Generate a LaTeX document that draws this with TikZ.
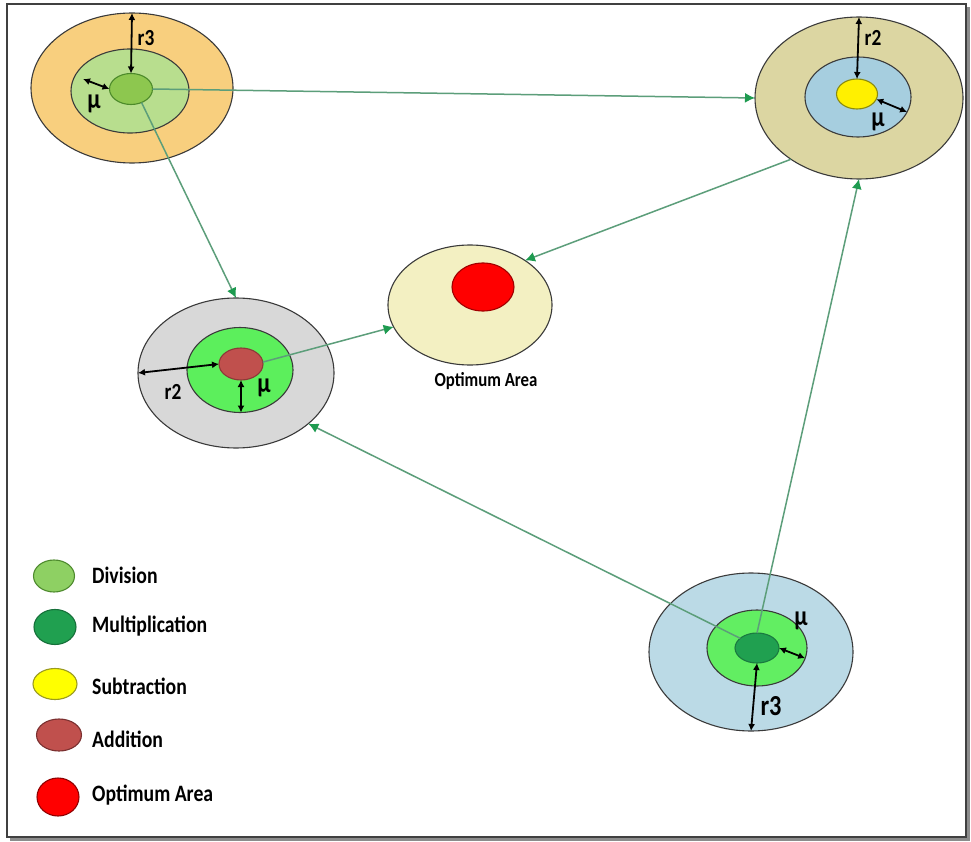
\documentclass[tikz,border=0pt]{standalone}
\usepackage{fontspec}
\newfontfamily\labfont[FakeStretch=0.84]{Carlito}
\usetikzlibrary{shapes.geometric,arrows.meta,calc}

% ring colours
\definecolor{tlouter}{HTML}{F8CF7E}
\definecolor{tlmid}{HTML}{B8DE8E}
\definecolor{tlin}{HTML}{8DC74F}
\definecolor{tlinline}{HTML}{4C8A2A}
\definecolor{trouter}{HTML}{DCD6A2}
\definecolor{trmid}{HTML}{A6CEDF}
\definecolor{trin}{HTML}{FFF000}
\definecolor{trinline}{HTML}{8A8A10}
\definecolor{mlouter}{HTML}{D8D8D8}
\definecolor{mlmid}{HTML}{5CEF5C}
\definecolor{mlin}{HTML}{C0504D}
\definecolor{mlinline}{HTML}{8B3A38}
\definecolor{brouter}{HTML}{BBDAE6}
\definecolor{brmid}{HTML}{62EE62}
\definecolor{brin}{HTML}{20A050}
\definecolor{brinline}{HTML}{1A7A40}
\definecolor{optouter}{HTML}{F3F0C2}
\definecolor{optin}{HTML}{FF0000}
\definecolor{optinline}{HTML}{A00000}
\definecolor{outline}{HTML}{3A3A3A}
\definecolor{linkgreen}{HTML}{5C9E7A}
\definecolor{tipgreen}{HTML}{1E9B50}
% legend colours
\definecolor{lgdiv}{HTML}{8ED063}
\definecolor{lgdivline}{HTML}{4E8A2E}
\definecolor{lgmul}{HTML}{20A050}
\definecolor{lgmulline}{HTML}{16703A}
\definecolor{lgsub}{HTML}{FFFF00}
\definecolor{lgsubline}{HTML}{9A9A20}
\definecolor{lgadd}{HTML}{C0504D}
\definecolor{lgaddline}{HTML}{7A3030}
\definecolor{lgopt}{HTML}{FF0000}
\definecolor{lgoptline}{HTML}{900000}

\tikzset{
  disc/.style={ellipse, inner sep=0pt, outer sep=0pt, line width=1.1pt},
  link/.style={draw=linkgreen, line width=1.5pt,
    -{Latex[length=10pt,width=10pt,color=tipgreen]}},
  dim/.style={line width=1.8pt,
    {Latex[length=7pt,width=7pt]}-{Latex[length=7pt,width=7pt]}},
  legtext/.style={font=\labfont\bfseries\fontsize{23.5}{25}\selectfont,
    anchor=west, inner sep=0pt},
  marktext/.style={font=\labfont\bfseries\fontsize{23}{25}\selectfont,
    inner sep=0pt},
  mutext/.style={font=\labfont\bfseries\fontsize{28}{30}\selectfont,
    inner sep=0pt}
}

\begin{document}
\begin{tikzpicture}[x=1pt,y=-1pt]
\useasboundingbox (0,0) rectangle (971,842);

% framed panel with a drop shadow
\fill[black!45] (10,7) rectangle (970,841);
\draw[fill=white, draw=black!75, line width=1.2pt] (7,4) rectangle (966,837);

% top-left rings (division)
\node[disc, fill=tlouter, draw=outline, minimum width=202, minimum height=150] (tlO) at (132,88) {};
\node[disc, fill=tlmid, draw=outline, minimum width=118, minimum height=84] (tlM) at (130,91) {};
\node[disc, fill=tlin, draw=tlinline, minimum width=43, minimum height=31] (tlI) at (131,89) {};

% top-right rings (subtraction)
\node[disc, fill=trouter, draw=outline, minimum width=208, minimum height=162] (trO) at (859,98) {};
\node[disc, fill=trmid, draw=outline, minimum width=106, minimum height=80] (trM) at (858,97) {};
\node[disc, fill=trin, draw=trinline, minimum width=41, minimum height=30] (trI) at (857,94) {};

% middle-left rings (addition)
\node[disc, fill=mlouter, draw=outline, minimum width=196, minimum height=150] (mlO) at (236,373) {};
\node[disc, fill=mlmid, draw=outline, minimum width=106, minimum height=85] (mlM) at (240,370) {};
\node[disc, fill=mlin, draw=mlinline, minimum width=44, minimum height=32] (mlI) at (241,364) {};

% bottom-right rings (multiplication)
\node[disc, fill=brouter, draw=outline, minimum width=204, minimum height=158] (brO) at (751,652) {};
\node[disc, fill=brmid, draw=outline, minimum width=100, minimum height=76] (brM) at (757,648) {};
\node[disc, fill=brin, draw=brinline, minimum width=44, minimum height=30] (brI) at (757,648) {};

% optimum area
\node[disc, fill=optouter, draw=outline, minimum width=164, minimum height=120] (optO) at (470,305) {};
\node[disc, fill=optin, draw=optinline, minimum width=62, minimum height=48] (optI) at (483,287) {};
\node[font=\labfont\bfseries\fontsize{20}{22}\selectfont, inner sep=0pt] (optL) at (486,381) {Optimum Area};

% connectors between the ring systems
\draw[link] (tlI.east) -- (trO.west);
\draw[link] (tlI.-52) -- (mlO.north);
\draw[link] (trO.222) -- (optO.39);
\draw[link] (mlI.5) -- (optO.196);
\draw[link] (brI.north) -- (trO.south);
\draw[link] (brI.150) -- (mlO.-35);

% radius and width markers
\coordinate (tlMu) at (83,79);
\draw[dim] (tlO.north) -- (tlI.north);
\draw[dim] (tlMu) -- (tlI.west);
\node[marktext] (tlR) at (146,38) {r3};
\node[mutext] (tlMuL) at (94,104) {µ};

\draw[dim] (trO.north) -- (trI.north);
\draw[dim] (trI.-15) -- (trM.-17);
\node[marktext] (trR) at (873,38) {r2};
\node[mutext] (trMuL) at (878,122) {µ};

\draw[dim] (mlO.west) -- (mlI.west);
\draw[dim] (mlI.south) -- (mlI.south |- mlM.south);
\node[marktext] (mlR) at (173,392) {r2};
\node[mutext] (mlMuL) at (264,388) {µ};

\draw[dim] (brI.south) -- (brO.south);
\draw[dim] (brI.east) -- (brM.-12);
\node[font=\labfont\bfseries\fontsize{29}{31}\selectfont, inner sep=0pt] (brR) at (771,706) {r3};
\node[mutext] (brMuL) at (801,621) {µ};

% legend
\node[disc, fill=lgdiv, draw=lgdivline, minimum width=41, minimum height=32] (lg1) at (54,576) {};
\node[legtext] (lt1) at (92,575) {Division};
\node[disc, fill=lgmul, draw=lgmulline, minimum width=42, minimum height=35] (lg2) at (55,627) {};
\node[legtext] (lt2) at (92,626) {Multiplication};
\node[disc, fill=lgsub, draw=lgsubline, minimum width=44, minimum height=31] (lg3) at (55,684) {};
\node[legtext] (lt3) at (92,686) {Subtraction};
\node[disc, fill=lgadd, draw=lgaddline, minimum width=45, minimum height=32] (lg4) at (59,735) {};
\node[legtext] (lt4) at (92,739) {Addition};
\node[disc, fill=lgopt, draw=lgoptline, minimum width=42, minimum height=38] (lg5) at (58,797) {};
\node[legtext] (lt5) at (92,795) {Optimum Area};

\end{tikzpicture}
\end{document}
